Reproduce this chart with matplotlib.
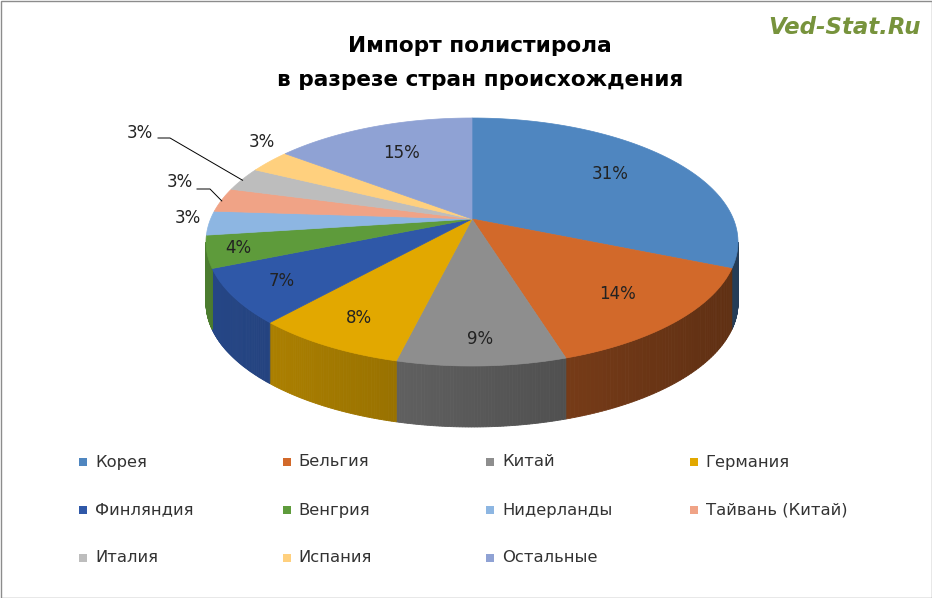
import numpy as np
import matplotlib.pyplot as plt
from matplotlib.patches import Polygon, Rectangle
from matplotlib.colors import to_rgb

countries = ["Корея", "Бельгия", "Китай", "Германия", "Финляндия", "Венгрия",
             "Нидерланды", "Тайвань (Китай)", "Италия", "Испания", "Остальные"]
shares = [31, 14, 9, 8, 7, 4, 3, 3, 3, 3, 15]
colors = ["#4F86C0", "#D2692A", "#8E8E8E", "#E2A800", "#2F58A8", "#5E9B3B",
          "#8DB6E2", "#F0A386", "#BDBDBD", "#FFD07E", "#8FA2D4"]

fig = plt.figure(figsize=(9.32, 5.98), dpi=100)
ax = fig.add_axes([0, 0, 1, 1])
ax.set_xlim(0, 932)
ax.set_ylim(598, 0)
ax.axis("off")
ax.add_patch(Rectangle((0.5, 0.5), 931, 597, fill=False, ec="#8C8C8C", lw=1))

# ellipse of the top face, apex of the slices (perspective), depth of the side
cx, ey, rx, ry, depth = 472, 242, 266, 124, 61
apx, apy, ry_dir = 472, 219, 128

def edge_point(t):
    # point where the ray from the apex at pie angle t meets the top ellipse
    dx, dy = rx * np.sin(t), -ry_dir * np.cos(t)
    ox, oy = apx - cx, apy - ey
    a = (dx / rx) ** 2 + (dy / ry) ** 2
    b = 2 * (ox * dx / rx ** 2 + oy * dy / ry ** 2)
    c = (ox / rx) ** 2 + (oy / ry) ** 2 - 1
    s = (-b + np.sqrt(b * b - 4 * a * c)) / (2 * a)
    return apx + s * dx, apy + s * dy

def ell_param(x, y):
    return np.arctan2((x - cx) / rx, -(y - ey) / ry) % (2 * np.pi)

def ell(phi, dy=0):
    return cx + rx * np.sin(phi), ey - ry * np.cos(phi) + dy

def darker(c, f):
    return tuple(v * f for v in to_rgb(c))

bounds = np.concatenate([[0], np.cumsum(shares)]) / sum(shares) * 2 * np.pi
phis = [ell_param(*edge_point(t)) for t in bounds[:-1]] + [2 * np.pi]
phis[0] = 0.0

# sides
for i in range(len(shares)):
    a, b = max(phis[i], np.pi / 2), min(phis[i + 1], 3 * np.pi / 2)
    if b <= a:
        continue
    ts = np.linspace(a, b, 60)
    for k in range(len(ts) - 1):
        t0, t1 = ts[k], ts[k + 1]
        shade = 0.8 - 0.35 * (np.sin((t0 + t1) / 2) + 1) / 2
        p = [ell(t0), ell(t1), ell(t1, depth), ell(t0, depth)]
        c = darker(colors[i], shade)
        ax.add_patch(Polygon(p, closed=True, fc=c, ec=c, lw=0.6))

# tops
for i in range(len(shares)):
    ts = np.linspace(phis[i], phis[i + 1], 80)
    p = [(apx, apy)] + [ell(t) for t in ts]
    ax.add_patch(Polygon(p, closed=True, fc=colors[i], ec=colors[i], lw=0.5))

# labels
label_f = [0.72, 0.72, 0.82, 0.78, 0.8, 0.88, None, None, None, None, 0.72]
outer = {6: (188, 218), 7: (180, 182), 8: (140, 133), 9: (262, 142)}
for i, s in enumerate(shares):
    mid = (bounds[i] + bounds[i + 1]) / 2
    ex, eyy = edge_point(mid)
    if i in outer:
        lx, ly = outer[i]
        if i == 7:
            ax.plot([lx + 17, lx + 30, ex], [ly + 7, ly + 7, eyy + 1], color="black", lw=0.7)
        if i == 8:
            ax.plot([lx + 18, lx + 30, ex], [ly + 5, ly + 5, eyy + 1], color="black", lw=0.7)
    else:
        lx = apx + label_f[i] * (ex - apx)
        ly = apy + label_f[i] * (eyy - apy)
    ax.text(lx, ly, f"{s}%", ha="center", va="center", fontsize=12, color="#222222")

ax.text(480, 46, "Импорт полистирола", ha="center", va="center", fontsize=15.6, fontweight="bold")
ax.text(480, 80, "в разрезе стран происхождения", ha="center", va="center", fontsize=15.6, fontweight="bold")
ax.text(844, 28, "Ved-Stat.Ru", ha="center", va="center", fontsize=16.5, fontweight="bold",
        fontstyle="italic", color="#77933C")

for i, name in enumerate(countries):
    col, row = i % 4, i // 4
    x = 83 + col * 203.5
    y = 462 + row * 48
    ax.add_patch(Rectangle((x - 4, y - 4), 8, 8, fc=colors[i], ec="none"))
    ax.text(x + 12, y, name, ha="left", va="center", fontsize=11.8, color="#333333")

fig.savefig("out.png", dpi=100)
